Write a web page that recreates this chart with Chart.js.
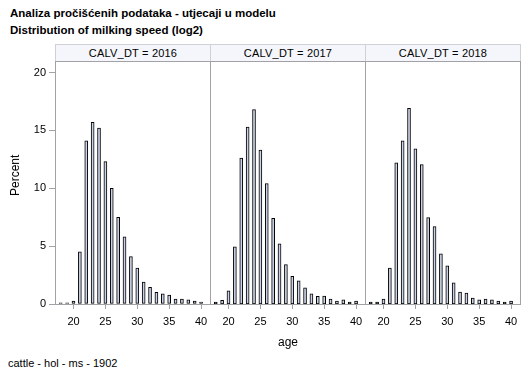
<!DOCTYPE html>
<html>
<head>
<meta charset="utf-8">
<script src="https://cdn.jsdelivr.net/npm/chart.js@4/dist/chart.umd.min.js"></script>
<style>
  body { margin: 0; background: #fff; }
  #wrap { position: relative; width: 529px; height: 378px; overflow: hidden; font-family: 'Liberation Sans', Arial, sans-serif; color: #000; }
  #wrap canvas { position: absolute; }
  .txt { position: absolute; white-space: nowrap; }
  .title { font-weight: bold; font-size: 11.5px; left: 10px; }
  .frame { position: absolute; border: 1px solid #a2a2a6; box-sizing: border-box; }
  .head { position: absolute; background: #f4f6fb; border: 1px solid #cfd1d6; box-sizing: border-box; font-size: 11px; letter-spacing: 0.2px; text-align: center; line-height: 16px; }
</style>
</head>
<body>
<div id="wrap">
  <div class="txt title" style="top:7px">Analiza pročišćenih podataka - utjecaji u modelu</div>
  <div class="txt title" style="top:24px">Distribution of milking speed (log2)</div>
  <div id="heads"></div>
  <canvas id="c0"></canvas>
  <canvas id="c1"></canvas>
  <canvas id="c2"></canvas>
  <div id="frames"></div>
  <div class="txt" style="left:2px;top:176px;font-size:12px;transform:rotate(-90deg);transform-origin:center;width:26px;text-align:center">Percent</div>
  <div class="txt" style="left:268px;top:335px;width:40px;text-align:center;font-size:12px">age</div>
  <div class="txt" style="left:8px;top:357px;font-size:11px">cattle - hol - ms - 1902</div>
</div>
<script>
const ages = [18, 19, 20, 21, 22, 23, 24, 25, 26, 27, 28, 29, 30, 31, 32, 33, 34, 35, 36, 37, 38, 39, 40];
const pct2016 = [0.1, 0.1, 0.25, 4.5, 14.1, 15.7, 15.2, 12.3, 10.0, 7.5, 5.8, 4.1, 3.1, 1.9, 1.45, 1.0, 0.87, 0.78, 0.43, 0.43, 0.35, 0.26, 0.17];
const pct2017 = [0.17, 0.32, 1.13, 4.95, 12.6, 15.3, 16.8, 13.3, 10.4, 7.4, 5.2, 3.4, 2.4, 2.0, 1.39, 0.87, 0.66, 0.69, 0.43, 0.26, 0.35, 0.17, 0.26];
const pct2018 = [0.17, 0.17, 0.43, 3.1, 12.2, 14.1, 16.9, 13.4, 12.05, 7.46, 6.68, 4.34, 3.29, 1.82, 1.04, 0.95, 0.52, 0.35, 0.43, 0.35, 0.26, 0.17, 0.26];
const panelYears = ['2016', '2017', '2018'];
const panelValues = [pct2016, pct2017, pct2018];
const xTicks = [20, 25, 30, 35, 40];
const yTicks = [0, 5, 10, 15, 20];

// panel geometry
const panelEdges = [55, 210, 365, 520];
const yAxisW = 55;
const plotTop = 61, plotBottom = 304;
const xAxisH = 30;
const gray = '#a2a2a6';
const font = { family: "'Liberation Sans', Arial, sans-serif", size: 11 };

const heads = document.getElementById('heads');
const frames = document.getElementById('frames');
for (let i = 0; i < 3; i++) {
    const l = panelEdges[i], r = panelEdges[i + 1];
    const h = document.createElement('div');
    h.className = 'head';
    h.style.cssText = `left:${l}px;top:44px;width:${r - l + 1}px;height:18px;`;
    h.textContent = 'CALV_DT = ' + panelYears[i];
    heads.appendChild(h);
    const f = document.createElement('div');
    f.className = 'frame';
    f.style.cssText = `left:${l}px;top:${plotTop}px;width:${r - l + 1}px;height:${plotBottom - plotTop + 1}px;`;
    frames.appendChild(f);
}

function makePanel(i) {
    const showY = i === 0;
    const canvas = document.getElementById('c' + i);
    const cl = showY ? 0 : panelEdges[i];
    const cw = panelEdges[i + 1] - cl + 1;
    canvas.width = cw;
    canvas.height = plotBottom - plotTop + xAxisH;
    canvas.style.left = cl + 'px';
    canvas.style.top = plotTop + 'px';
    new Chart(canvas.getContext('2d'), {
        type: 'bar',
        data: {
            datasets: [{
                data: ages.map((a, k) => ({ x: a, y: panelValues[i][k] })),
                backgroundColor: '#c9d2e6',
                borderColor: '#000',
                borderWidth: 1,
                borderSkipped: false,
                barThickness: 3
            }]
        },
        options: {
            responsive: false,
            animation: false,
            layout: { padding: { left: 0, right: 1, top: 0, bottom: 0 } },
            plugins: { legend: { display: false }, tooltip: { enabled: false } },
            scales: {
                x: {
                    type: 'linear',
                    offset: false,
                    min: 17.1,
                    max: 41.4,
                    afterBuildTicks: s => { s.ticks = xTicks.map(v => ({ value: v })); },
                    afterFit: s => { s.height = xAxisH; s.paddingLeft = 0; s.paddingRight = 0; },
                    grid: { display: true, offset: false, drawOnChartArea: false, drawTicks: true, tickLength: 5, color: gray },
                    border: { display: false },
                    ticks: { color: '#000', font: font, padding: 6, maxRotation: 0, autoSkip: false }
                },
                y: {
                    display: showY,
                    min: 0,
                    max: 21,
                    afterBuildTicks: s => { s.ticks = yTicks.map(v => ({ value: v })); },
                    afterFit: s => {
                        if (showY) s.width = yAxisW;
                        s.paddingTop = 0; s.paddingBottom = 0;
                    },
                    grid: { display: true, drawOnChartArea: false, drawTicks: true, tickLength: 6, color: gray },
                    border: { display: false },
                    ticks: { color: '#000', font: font, padding: 3 }
                }
            }
        }
    });
}
for (let i = 0; i < 3; i++) makePanel(i);
</script>
</body>
</html>
